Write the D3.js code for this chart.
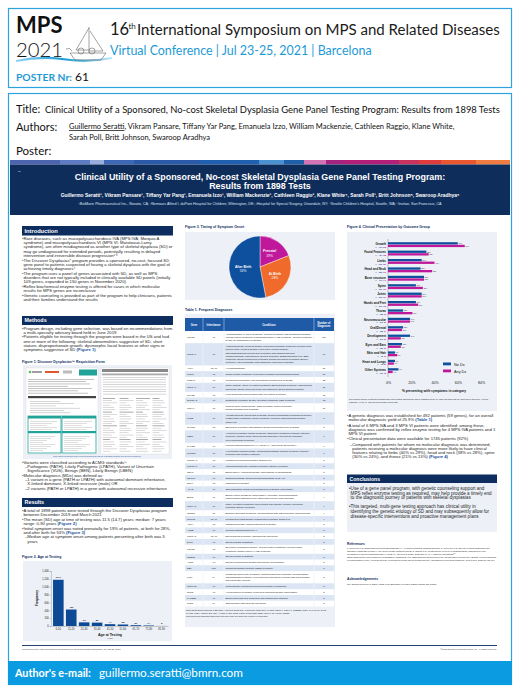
<!DOCTYPE html>
<html><head><meta charset="utf-8">
<script src="https://cdn.jsdelivr.net/npm/d3@7"></script>
<style>body{margin:0;background:#fff}svg{display:block}</style>
</head><body><svg id="c" width="520" height="693"></svg>
<script>
// ---------------- DATA ----------------
const ageGroups = ["0-10","11-20","21-30","31-40","41-50","51-60","61-70","71-80","81-90"];
const ageCounts = [1177,420,93,86,47,38,21,14,2];
const ageTicks = [0,200,400,600,800,1000,1200,1400];

const onsetLabels = ["Prenatal","At Birth","After Birth"];
const onsetPct = [19,28,53];

const presCategories = ["Growth","Facial Features","Limbs","Head and Neck","Bone structure","Spine","Joints","Hands and Feet","Thorax","Neuromuscular","Oral/Dental","Development","Eyes and Ears","Skin and Hair","Heart and Lungs","Other Systems"];
const presNoDx  = [60,33,29,28,31,24,29,24,13,19,13,19,12,6,6,9];
const presAnyDx = [66,35,40,38,31,30,29,26,21,19,12,11,11,8,5,4];
const presNNoDx  = [776,427,375,362,401,310,375,310,168,246,168,246,155,78,78,116];
const presNAnyDx = [298,158,181,172,140,136,131,118,95,86,54,50,50,36,23,18];
const pctTicks = [0,20,40,60,80];

const tableGenes = ["FGFR3","COL2A1","ALPL","COMP","RUNX2","COL1A1","LMX1B","SLC26A2","TRPV4","FLNB","MATN3","FBN1","GALNS","PTPN11","COL10A1","COL11A1","GDF5","INPPL1","SOX9","ACAN","BMP2","COL9A2","LEMD3","MMP13","ANKH","ARSB","COL1A2","DLL3","FGFR2","MESP2","ACP5","EBP","FLNA","GNPTAB","NPR2","PAPSS2","PLS3"];
const tableInheritance = ["AD","AD","AD/AR","AD","AD","AD","AD","AR","AD","AD","AD","AD","AR","AD","AD","AD","AD","AR","AD","AD","AD","AD","AD","AD/AR","AD","AR","AD/AR","AR","AD","AR","AR","XLD","XL","AR","AR","AR","XL"];
const tableConditions = [
 "Achondroplasia; CATSHL syndrome; Crouzon syndrome with acanthosis nigricans; FGFR3-related conditions; hypochondroplasia; LADD syndrome; Muenke syndrome; SADDAN; thanatophoric dysplasia",
 "Achondrogenesis; Czech dysplasia; epiphyseal dysplasia; avascular necrosis of the femoral head; Kniest dysplasia; Legg-Calvé-Perthes disease; osteoarthritis/spondyloepiphyseal dysplasia; osteoarthritis with mild chondrodysplasia; platyspondylic skeletal dysplasia; SMED Strudwick type; SED congenita; spondyloepiphyseal dysplasia; spondyloperipheral dysplasia; Stickler syndrome; vitreoretinopathy with phalangeal epiphyseal dysplasia",
 "Hypophosphatasia",
 "COMP-related conditions; epiphyseal dysplasia; pseudoachondroplasia",
 "Cleidocranial dysplasia; craniosynostosis; Metaphyseal dysplasia",
 "Caffey disease; COL1A1-related conditions; Ehlers-Danlos syndrome; osteogenesis imperfecta; fibrotic aortic aneurysm and dissection; Ehlers-Danlos syndrome",
 "Focal segmental glomerulosclerosis; nail-patella syndrome",
 "Diastrophic dysplasia; SLC26A2-related conditions; MED syndrome",
 "Charcot-Marie-Tooth disease; distal hereditary motor neuropathy; spondylometaphyseal dysplasia",
 "Atelosteogenesis; boomerang dysplasia; spondylocarpotarsal synostosis syndrome; FLNB-related conditions; Larsen syndrome; Piepkorn osteochondrodysplasia; Larsen-like",
 "Epiphyseal dysplasia; osteoarthritis; spondyloepimetaphyseal dysplasia",
 "Acromicric dysplasia; Marfan syndrome; Shprintzen-Goldberg syndrome; stiff skin syndrome; thoracic aortic aneurysm and dissection; geleophysic dysplasia; Weill-Marchesani syndrome",
 "Mucopolysaccharidosis type IVA (MPS IVA), also known as Morquio A",
 "Hypertrophic cardiomyopathy; metachondromatosis; Noonan syndrome; Noonan syndrome with multiple lentigines",
 "Metaphyseal chondrodysplasia, Schmid type",
 "Fibrochondrogenesis; Marshall syndrome; Stickler syndrome",
 "Brachydactyly; chondrodysplasia; osteoarthritis; symphalangism",
 "Opsismodysplasia; spondyloenchondromatosis (CHS-AD)",
 "Campomelic dysplasia",
 "Osteochondritis; spondyloepimetaphyseal dysplasia; short stature",
 "BMP2-related conditions; brachydactyly; hereditary hemochromatosis; fibrodysplasia ossificans of the ligamentum flavum; tooth agenesis",
 "COL9A2-related conditions; intervertebral disc disease; multiple epiphyseal dysplasia; Stickler syndrome",
 "Buschke-Ollendorff syndrome; melorheostosis with osteopoikilosis; osteopoikilosis",
 "Metaphyseal anadysplasia; metaphyseal dysplasia, Spahr type",
 "Chondrocalcinosis; craniometaphyseal dysplasia",
 "Mucopolysaccharidosis type VI",
 "Ehlers-Danlos syndrome; osteogenesis imperfecta",
 "Spondylocostal dysostosis",
 "Bent bone dysplasia syndrome; FGFR2-related conditions; FGFR2 related conditions; Gastric cancer; LADD syndrome",
 "Spondylocostal dysostosis",
 "Spondyloenchondrodysplasia with immune dysregulation",
 "Chondrodysplasia punctata; MEND syndrome",
 "Congenital short bowel syndrome; frontometaphyseal dysplasia; melorheostosis; otopalatodigital syndrome; periventricular heterotopia; terminal osseous dysplasia with pigmentary defects",
 "Mucolipidosis II alpha/beta and mucolipidosis III alpha/beta",
 "Acromesomelic dysplasia; epiphyseal chondrodysplasia, short stature",
 "Brachyolmia with mild epiphyseal and metaphyseal changes",
 "Osteoporosis; osteogenesis imperfecta"
];
const tableCounts = [117,60,31,26,23,20,15,12,11,8,8,7,6,6,5,5,5,5,5,5,4,4,4,4,3,3,3,3,3,3,3,3,3,3,3,3,3];

// ---------------- SETUP ----------------
const svg = d3.select("#c");
const FONT = "'Liberation Sans', Arial, sans-serif";
const HFONT = "Lato, 'Open Sans', sans-serif";
const NAVY = "#0c2d5e", BLUE = "#0e4f9e", MAG = "#c0189a", ORANGE = "#f06a2c", PANEL = "#edf1f7", LINK = "#1b4f9c";
const SKY = "#2aa3de";

const meas = svg.append("text").attr("x",-2000).attr("y",-2000).attr("font-family",FONT);
function tw(s,size,weight,fam){ meas.attr("font-family",fam||FONT).attr("font-size",size).attr("font-weight",weight||"normal").text(s); return meas.node().getComputedTextLength(); }
function fitSize(s,maxSize,width,weight,fam){ const w=tw(s,maxSize,weight,fam); return w>width ? maxSize*width/w : maxSize; }
function exactSize(s,size,width,weight,fam){ return size*width/tw(s,size,weight,fam); }
function wrap(s,width,size,weight){
  const words=s.split(/\s+/); const lines=[]; let cur="";
  for(const w of words){ const t=cur?cur+" "+w:w; if(tw(t,size,weight)>width && cur){lines.push(cur);cur=w;} else cur=t; }
  if(cur) lines.push(cur); return lines;
}
const HL=/(\((?:Figure|Table) \d\))/;
function drawLine(g,str,x,y,size,o){
  o=o||{};
  const t=g.append("text").attr("x",x).attr("y",y).attr("font-size",size).attr("font-family",FONT)
    .attr("fill",o.fill||"#1e1e1e").attr("font-weight",o.weight||"normal");
  str.split(HL).forEach(p=>{ if(!p) return; const sp=t.append("tspan").text(p); if(HL.test(p)) sp.attr("fill",LINK).attr("font-weight","bold"); });
  return t;
}
function paras(g,items,x,y,width,o){
  items.forEach(([lvl,txt])=>{
    const ind = lvl===1 ? o.ind1 : 0;
    const mark = lvl===0 ? o.mark0 : (lvl===1 ? "– " : "");
    const mw = mark ? tw(mark,o.size) : 0;
    const lines = wrap(txt,width-ind-mw,o.size);
    lines.forEach((ln,i)=>{ if(i===0&&mark) drawLine(g,mark,x+ind,y,o.size,o); drawLine(g,ln,x+ind+mw,y,o.size,o); y+=o.lh; });
    y+=o.gap||0;
  });
  return y;
}
function secHeader(g,x,y,w,h,label){
  g.append("rect").attr("x",x).attr("y",y).attr("width",w).attr("height",h).attr("fill",NAVY);
  g.append("text").attr("x",x+2.5).attr("y",y+h*0.72).attr("font-size",h*0.6).attr("font-weight","bold").attr("font-family",FONT).attr("fill","#fff").text(label);
}
function figLabel(g,x,y,label){
  g.append("text").attr("x",x).attr("y",y).attr("font-size",3.5).attr("font-weight","bold").attr("font-family",FONT).attr("fill",NAVY).text(label);
}
function fitText(g,x,y,str,maxSize,width,attrs){
  const w=attrs.weight||"normal";
  const s=attrs.exact ? exactSize(str,maxSize,width,w,attrs.fam||HFONT) : fitSize(str,maxSize,width,w,attrs.fam||HFONT);
  return g.append("text").attr("x",x).attr("y",y).attr("font-family",attrs.fam||HFONT).attr("font-weight",w).attr("font-size",s).attr("fill",attrs.fill||"#111").text(str);
}

// ---------------- CONFERENCE HEADER ----------------
const H = svg.append("g");
H.append("rect").attr("x",8.5).attr("y",8.5).attr("width",503).attr("height",79).attr("fill","#fff").attr("stroke",SKY).attr("stroke-width",1.2);
fitText(H,16,33,"MPS",22,47,{weight:"bold"});
fitText(H,16,56.5,"2021",22,47,{weight:"300"});
const wg = svg.append("defs").append("linearGradient").attr("id","wv");
wg.append("stop").attr("offset","0").attr("stop-color","#8fd3f4");
wg.append("stop").attr("offset","0.5").attr("stop-color","#1a9ad6");
wg.append("stop").attr("offset","1").attr("stop-color","#bfe6f8");
H.append("path").attr("d","M16,61 Q40,56 62,59 Q86,63 112,58").attr("fill","none").attr("stroke","url(#wv)").attr("stroke-width",2.2);
const B = H.append("g").attr("fill","none").attr("stroke","#666").attr("stroke-width",0.6);
B.append("path").attr("d","M70,53 L106,53 L101,60 L75,60 Z");
B.append("path").attr("d","M89,27 L89,53");
B.append("path").attr("d","M89,28 L76,50 L89,50");
B.append("path").attr("d","M90,31 L103,51 L90,51");
B.append("circle").attr("cx",81).attr("cy",51).attr("r",3);
B.append("circle").attr("cx",92).attr("cy",51).attr("r",3);
B.append("path").attr("d","M66,49 Q70,47 72,51");
H.append("text").attr("x",110).attr("y",35).attr("font-family",HFONT).attr("font-size",16.5).attr("fill","#1a1a1a").text("16");
H.append("text").attr("x",128.5).attr("y",28.5).attr("font-family",HFONT).attr("font-size",8).attr("fill","#1a1a1a").text("th");
fitText(H,137,35,"International Symposium on MPS and Related Diseases",16.5,363,{fill:"#1a1a1a"});
fitText(H,110,55,"Virtual Conference | Jul 23-25, 2021 | Barcelona",13,262,{fill:"#1e9ad6"});
fitText(H,16,81,"POSTER Nr:",10.5,56,{weight:"bold",fill:"#1e9ad6"});
H.append("text").attr("x",75).attr("y",81).attr("font-family",HFONT).attr("font-size",12).attr("fill","#111").text("61");

// ---------------- TITLE BOX ----------------
const T = svg.append("g");
T.append("rect").attr("x",8.5).attr("y",93.5).attr("width",503).attr("height",591).attr("fill","#fff").attr("stroke",SKY).attr("stroke-width",1.2);
T.append("text").attr("x",16).attr("y",113).attr("font-family",HFONT).attr("font-size",11).attr("fill","#111").text("Title:");
fitText(T,45,112.5,"Clinical Utility of a Sponsored, No-cost Skeletal Dysplasia Gene Panel Testing Program: Results from 1898 Tests",7.4,455,{exact:true});
T.append("text").attr("x",16).attr("y",131).attr("font-family",HFONT).attr("font-size",11).attr("fill","#111").text("Authors:");
const authA="Guillermo Seratti", authB=", Vikram Pansare, Tiffany Yar Pang, Emanuela Izzo, William Mackenzie, Cathleen Raggio, Klane White,";
const aSize=exactSize(authA+authB,6.5,386,"normal",HFONT);
T.append("text").attr("x",69).attr("y",129).attr("font-family",HFONT).attr("font-size",aSize).attr("fill","#111")
  .call(t=>{ t.append("tspan").attr("text-decoration","underline").text(authA); t.append("tspan").text(authB); });
T.append("text").attr("x",69).attr("y",140).attr("font-family",HFONT).attr("font-size",aSize).attr("fill","#111").text("Sarah Poll, Britt Johnson, Swaroop Aradhya");
T.append("text").attr("x",16).attr("y",155).attr("font-family",HFONT).attr("font-size",11.5).attr("fill","#111").text("Poster:");

svg.append("rect").attr("x",8).attr("y",661).attr("width",504).attr("height",24).attr("fill","#0b9be0");
fitText(svg,15,677,"Author's e-mail:",10.5,76,{weight:"bold",fill:"#fff",exact:true});
fitText(svg,99,677,"guillermo.seratti@bmrn.com",11.5,144,{fill:"#fff",exact:true});

// ---------------- POSTER ----------------
const P = svg.append("g");
P.append("rect").attr("x",10).attr("y",160).attr("width",500).attr("height",498).attr("fill","#fff");
const stripe=[["#4c63ad",50],["#5d7cc4",30],["#9aaedb",14],["#3d68b6",30],["#2b5aa8",65],["#1f60b0",60],["#4a92d2",25],["#2060aa",20],["#d574b5",22],["#a4247f",18],["#b42079",55],["#c8335f",20],["#e03b3d",22],["#e9572f",35],["#f17c3f",34]];
let sx=10; stripe.forEach(([c,w])=>{ P.append("rect").attr("x",sx).attr("y",160).attr("width",w).attr("height",4.5).attr("fill",c); sx+=w; });
P.append("rect").attr("x",10).attr("y",164.5).attr("width",500).attr("height",50.5).attr("fill","#0f2d5a");
P.append("text").attr("x",18).attr("y",172).attr("font-size",2.4).attr("font-family",FONT).attr("fill","#fff").text("61");
const pt1="Clinical Utility of a Sponsored, No-cost Skeletal Dysplasia Gene Panel Testing Program:";
const ptSize=exactSize(pt1,7.8,371,"bold");
P.append("text").attr("x",260).attr("y",179.5).attr("text-anchor","middle").attr("font-size",ptSize).attr("font-weight","bold").attr("font-family",FONT).attr("fill","#fff").text(pt1);
P.append("text").attr("x",260).attr("y",188.5).attr("text-anchor","middle").attr("font-size",ptSize).attr("font-weight","bold").attr("font-family",FONT).attr("fill","#fff").text("Results from 1898 Tests");
const auth="Guillermo Seratti¹, Vikram Pansare¹, Tiffany Yar Pang¹, Emanuela Izzo¹, William Mackenzie², Cathleen Raggio³, Klane White⁴, Sarah Poll¹, Britt Johnson⁵, Swaroop Aradhya⁵";
P.append("text").attr("x",260).attr("y",197).attr("text-anchor","middle").attr("font-size",exactSize(auth,3.4,398,"bold")).attr("font-weight","bold").attr("font-family",FONT).attr("fill","#fff").text(auth);
const aff="¹BioMarin Pharmaceutical Inc., Novato, CA; ²Nemours Alfred I. duPont Hospital for Children, Wilmington, DE; ³Hospital for Special Surgery, Uniondale, NY; ⁴Seattle Children's Hospital, Seattle, WA; ⁵Invitae, San Francisco, CA";
P.append("text").attr("x",260).attr("y",205).attr("text-anchor","middle").attr("font-size",exactSize(aff,2.5,364)).attr("font-family",FONT).attr("fill","#dfe6f2").text(aff);

const BODY = {size:4.2, lh:4.2, gap:0.5, ind1:3, mark0:"•"};

// ---- LEFT COLUMN ----
const L = P.append("g");
const LX=22, LW=151;
secHeader(L,LX,226,LW,9.5,"Introduction");
paras(L,[
 [0,"Rare diseases, such as mucopolysaccharidosis IVA (MPS IVA; Morquio A syndrome) and mucopolysaccharidosis VI (MPS VI; Maroteaux-Lamy syndrome), are often misdiagnosed as another type of skeletal dysplasia (SD) or may go undiagnosed for extended periods, potentially resulting in delayed intervention and irreversible disease progression¹⁻³"],
 [0,"The Discover Dysplasias* program provides a sponsored, no-cost, focused SD gene panel to patients suspected of having a skeletal dysplasia with the goal of achieving timely diagnoses⁴"],
 [0,"The program uses a panel of genes associated with SD, as well as MPS disorders that are not typically included in clinically available SD panels (initially 109 genes, expanded to 150 genes in November 2020)"],
 [0,"Reflex biochemical enzyme testing is offered for cases in which molecular results for MPS genes are inconclusive"],
 [0,"Genetic counseling is provided as part of the program to help clinicians, patients and their families understand the results"]
],LX,240,LW,BODY);
secHeader(L,LX,316,LW,9,"Methods");
paras(L,[
 [0,"Program design, including gene selection, was based on recommendations from a multi-specialty advisory board held in June 2019"],
 [0,"Patients eligible for testing through the program were based in the US and had one or more of the following: skeletal abnormalities suggestive of SD, short stature, disproportionate growth, dysmorphic facial features or other signs or symptoms suggestive of SD (Figure 1)"]
],LX,329.5,LW,BODY);
figLabel(L,LX,362.5,"Figure 1. Discover Dysplasias™ Requisition Form");
L.append("rect").attr("x",23).attr("y",365).attr("width",149).attr("height",94).attr("fill",PANEL);
const F=L.append("g");
F.append("rect").attr("x",26).attr("y",368).attr("width",72).attr("height",86).attr("fill","#fff").attr("stroke","#ccc").attr("stroke-width",0.3);
F.append("rect").attr("x",101).attr("y",368).attr("width",68).attr("height",86).attr("fill","#fff").attr("stroke","#ccc").attr("stroke-width",0.3);
F.append("circle").attr("cx",30).attr("cy",372).attr("r",1.3).attr("fill","#5cb85c");
F.append("rect").attr("x",32).attr("y",371.3).attr("width",10).attr("height",1.4).attr("fill","#777");
F.append("rect").attr("x",45).attr("y",371).attr("width",14).attr("height",2).attr("fill","#e2562c");
F.append("rect").attr("x",63).attr("y",370.5).attr("width",9).attr("height",3).attr("fill","#bbb");
F.append("rect").attr("x",79).attr("y",369.5).attr("width",18).attr("height",6).attr("fill","#22a39a");
for(let i=0;i<7;i++){ F.append("rect").attr("x",28).attr("y",379+i*2.3).attr("width",[66,58,62,40,64,50,60][i]).attr("height",0.7).attr("fill","#aaa"); }
F.append("rect").attr("x",28).attr("y",396).attr("width",68).attr("height",2.2).attr("fill","#444");
for(let i=0;i<6;i++){ F.append("rect").attr("x",30).attr("y",401+i*2.3).attr("width",[30,44,26,50,34,40][i]).attr("height",0.6).attr("fill","#bbb"); }
[[28,416,33],[62,416,34]].forEach(([x,y,w])=>{
  F.append("rect").attr("x",x).attr("y",y).attr("width",w).attr("height",37).attr("fill","#fff").attr("stroke","#22a39a").attr("stroke-width",0.8);
  F.append("rect").attr("x",x).attr("y",y).attr("width",w).attr("height",2.5).attr("fill","#22a39a");
  F.append("rect").attr("x",x).attr("y",y+15).attr("width",w).attr("height",2.2).attr("fill","#22a39a");
  for(let i=0;i<5;i++) F.append("rect").attr("x",x+2).attr("y",y+5+i*2).attr("width",w-6-(i%3)*5).attr("height",0.5).attr("fill","#bbb");
  for(let i=0;i<8;i++) F.append("rect").attr("x",x+2).attr("y",y+20+i*2).attr("width",w-8-(i%4)*4).attr("height",0.5).attr("fill","#bbb");
});
F.append("rect").attr("x",102).attr("y",369).attr("width",66).attr("height",3).attr("fill","#888");
F.append("rect").attr("x",102).attr("y",373.5).attr("width",66).attr("height",1.8).attr("fill","#aaa");
for(let r=0;r<8;r++) F.append("rect").attr("x",103).attr("y",377+r*2.4).attr("width",63).attr("height",0.6).attr("fill","#bbb");
for(let c=0;c<4;c++) for(let r=0;r<24;r++){
  F.append("rect").attr("x",103+c*16.5).attr("y",398+r*2.3).attr("width",[12,9,14,7,11][(r+c)%5]).attr("height",0.55).attr("fill",r%6===0?"#666":"#bbb");
}
L.append("text").attr("x",97).attr("y",457.3).attr("text-anchor","middle").attr("font-size",1.7).attr("font-family",FONT).attr("fill",LINK).text("https://discoverdysplasias.invitae.com/content/dam/invitae/discover-dysplasias/requisition-form-skeletal-dysplasia.pdf");
paras(L,[
 [0,"Variants were classified according to ACMG standards⁵:"],
 [1,"Pathogenic (PATH), Likely Pathogenic (LPATH), Variant of Uncertain Significance (VUS), Benign (BEN), Likely Benign (LBEN)"],
 [0,"Molecular diagnosis (MDx) was defined as:"],
 [1,"1 variant in a gene (PATH or LPATH) with autosomal dominant inheritance, X-linked dominant, X-linked recessive (male) OR"],
 [1,"2 variants (PATH or LPATH) in a gene with autosomal recessive inheritance"]
],LX,463.5,LW,Object.assign({},BODY,{gap:0.2}));
secHeader(L,LX,498,LW,9,"Results");
paras(L,[
 [0,"A total of 1898 patients were tested through the Discover Dysplasias program between December 2019 and March 2021"],
 [0,"The mean (SD) age at time of testing was 11.5 (14.7) years; median: 7 years; range: 0-90 years (Figure 2)"],
 [0,"Initial symptom onset was noted prenatally for 19% of patients, at birth for 28%, and after birth for 53% (Figure 3)"],
 [1,"Median age at symptom onset among patients presenting after birth was 5 years"]
],LX,512,LW,Object.assign({},BODY,{gap:0.4}));
figLabel(L,LX,558,"Figure 2. Age at Testing");

const F2=L.append("g");
F2.append("rect").attr("x",23).attr("y",561).attr("width",149).attr("height",80).attr("fill",PANEL);
const x2=d3.scaleBand().domain(ageGroups).range([52,168]).paddingInner(0.18).paddingOuter(0.08);
const y2=d3.scaleLinear().domain([0,1400]).range([626,571]);
F2.selectAll(".bar").data(ageCounts).join("rect").attr("x",(d,i)=>x2(ageGroups[i])).attr("width",x2.bandwidth())
  .attr("y",d=>y2(d)).attr("height",d=>y2(0)-y2(d)).attr("fill","#0d4a96");
F2.selectAll(".vl").data(ageCounts).join("text").attr("x",(d,i)=>x2(ageGroups[i])+x2.bandwidth()/2).attr("y",d=>y2(d)-1.5)
  .attr("text-anchor","middle").attr("font-size",2.5).attr("font-weight","bold").attr("font-family",FONT).attr("fill","#222").text(d=>d);
const ax2=F2.append("g").attr("transform","translate(51,0)").call(d3.axisLeft(y2).tickValues(ageTicks).tickSize(1.2).tickPadding(1));
ax2.selectAll("text").attr("font-size",2.6).attr("font-family",FONT).attr("fill","#222");
ax2.selectAll("line,path").attr("stroke","#666").attr("stroke-width",0.3);
const bx2=F2.append("g").attr("transform","translate(0,626)").call(d3.axisBottom(x2).tickSize(0).tickPadding(2.5));
bx2.selectAll("text").attr("font-size",2.6).attr("font-family",FONT).attr("fill","#222");
bx2.select("path").attr("stroke","#666").attr("stroke-width",0.3);
F2.append("text").attr("transform","translate(38,598) rotate(-90)").attr("text-anchor","middle").attr("font-size",3.2).attr("font-weight","bold").attr("font-family",FONT).attr("fill","#111").text("Frequency");
F2.append("text").attr("x",110).attr("y",636).attr("text-anchor","middle").attr("font-size",3.5).attr("font-weight","bold").attr("font-family",FONT).attr("fill","#111").text("Age at Testing");
F2.append("text").attr("x",110).attr("y",639.3).attr("text-anchor","middle").attr("font-size",2.2).attr("font-family",FONT).attr("fill","#333").text("years");

// ---- MIDDLE COLUMN ----
const M=P.append("g");
figLabel(M,185,228,"Figure 3. Timing of Symptom Onset");
M.append("rect").attr("x",185).attr("y",232).attr("width",150).attr("height",68).attr("fill",PANEL);
const pieColors=d3.scaleOrdinal().domain(onsetLabels).range([MAG,ORANGE,BLUE]);
const pie=d3.pie().sort(null).value(d=>d);
const arcs=pie(onsetPct);
const arc=d3.arc().innerRadius(0).outerRadius(31);
const lab=d3.arc().innerRadius(17).outerRadius(17);
const PG=M.append("g").attr("transform","translate(260,267)");
PG.selectAll("path").data(arcs).join("path").attr("d",arc).attr("fill",(d,i)=>pieColors(onsetLabels[i])).attr("stroke","#fff").attr("stroke-width",0.4);
PG.selectAll(".pl").data(arcs).join("text").attr("transform",d=>`translate(${lab.centroid(d)})`).attr("text-anchor","middle")
  .attr("font-size",3.3).attr("font-weight","bold").attr("font-family",FONT).attr("fill","#fff")
  .each(function(d,i){ const t=d3.select(this); t.append("tspan").attr("x",0).attr("dy",-0.5).text(onsetLabels[i]); t.append("tspan").attr("x",0).attr("dy",4.3).attr("font-weight","normal").text(onsetPct[i]+"%"); });

figLabel(M,185,310.5,"Table 1. Frequent Diagnoses");
M.append("rect").attr("x",185).attr("y",314).attr("width",150).attr("height",313).attr("fill",PANEL);
const cx=[185,203,224,314,334];
const TH=M.append("g");
TH.append("rect").attr("x",185).attr("y",318).attr("width",149).attr("height",13).attr("fill","#1f5aa6");
const hdr=["Gene","Inheritance","Conditions","Number of|Diagnoses"];
hdr.forEach((h,i)=>{
  const parts=h.split("|"); const mx=(cx[i]+cx[i+1])/2;
  parts.forEach((p,j)=> TH.append("text").attr("x",mx).attr("y",325.5+(j-(parts.length-1)/2)*3.2).attr("text-anchor","middle").attr("font-size",2.6).attr("font-weight","bold").attr("font-family",FONT).attr("fill","#fff").text(p));
  if(i>0) TH.append("line").attr("x1",cx[i]).attr("x2",cx[i]).attr("y1",318).attr("y2",331).attr("stroke","#fff").attr("stroke-width",0.4);
});
const TS=2.35, condW=cx[3]-cx[2]-3;
const rowLines=tableConditions.map(c=>wrap(c,condW,TS));
const units=rowLines.map(l=>l.length+0.75);
const totalU=d3.sum(units);
const uScale=d3.scaleLinear().domain([0,totalU]).range([331,606.5]);
let acc=0;
rowLines.forEach((lines,i)=>{
  const y0=uScale(acc), y1=uScale(acc+units[i]); acc+=units[i];
  const lh=(y1-y0)/units[i];
  TH.append("rect").attr("x",185).attr("y",y0).attr("width",149).attr("height",y1-y0).attr("fill",i%2===0?"#fff":"#dbe5f3");
  [1,2,3].forEach(k=>TH.append("line").attr("x1",cx[k]).attr("x2",cx[k]).attr("y1",y0).attr("y2",y1).attr("stroke",i%2===0?"#dbe5f3":"#fff").attr("stroke-width",0.4));
  const mid=(y0+y1)/2+0.8;
  TH.append("text").attr("x",cx[0]+2).attr("y",mid).attr("font-size",TS).attr("font-family",FONT).attr("fill","#222").text(tableGenes[i]);
  TH.append("text").attr("x",(cx[1]+cx[2])/2).attr("y",mid).attr("text-anchor","middle").attr("font-size",TS).attr("font-family",FONT).attr("fill","#222").text(tableInheritance[i]);
  TH.append("text").attr("x",(cx[3]+cx[4])/2).attr("y",mid).attr("text-anchor","middle").attr("font-size",TS).attr("font-family",FONT).attr("fill","#222").text(tableCounts[i]);
  lines.forEach((ln,j)=>TH.append("text").attr("x",cx[2]+1.5).attr("y",y0+lh*(0.375+j)+lh*0.72).attr("font-size",TS).attr("font-family",FONT).attr("fill","#222").text(ln));
});
paras(M,[
 [2,"Table shows genes identified in ≥3 cases. Additional genes with <3 identified cases were: CHST3, COL2A1, COL9A1, CREBBP, CTSK, DYM, EXT1, EXT2, GALNS, GLB1, HSPG2, IDS, IDUA, KIF5B, NANS, NPR2, PCNT, SH3PXD2B, SOST, SULF1, TRAPPC2, WDR35"],
 [2,"Individuals with diagnoses associated with more than one gene are counted for each gene"]
],186,611,147,{size:2.05,lh:2.8,gap:0.6,ind1:0,mark0:""});

// ---- RIGHT COLUMN ----
const R=P.append("g");
figLabel(R,347,228,"Figure 4. Clinical Presentation by Outcome Group");
R.append("rect").attr("x",347).attr("y",232).attr("width",150).attr("height",179).attr("fill",PANEL);
const x4=d3.scaleLinear().domain([0,80]).range([388,481]);
const y4=d3.scaleBand().domain(presCategories).range([240.3,374.7]);
const bh=2.3;
R.selectAll(".b1").data(presNoDx).join("rect").attr("x",x4(0)).attr("y",(d,i)=>y4(presCategories[i])+1.9).attr("width",d=>x4(d)-x4(0)).attr("height",bh).attr("fill",BLUE);
R.selectAll(".b2").data(presAnyDx).join("rect").attr("x",x4(0)).attr("y",(d,i)=>y4(presCategories[i])+4.5).attr("width",d=>x4(d)-x4(0)).attr("height",bh).attr("fill",MAG);
R.selectAll(".v1").data(presNoDx).join("text").attr("x",d=>x4(d)+0.8).attr("y",(d,i)=>y4(presCategories[i])+3.8).attr("font-size",1.7).attr("font-family",FONT).attr("fill","#222").text(d=>d+"%");
R.selectAll(".v2").data(presAnyDx).join("text").attr("x",d=>x4(d)+0.8).attr("y",(d,i)=>y4(presCategories[i])+6.4).attr("font-size",1.7).attr("font-family",FONT).attr("fill","#222").text(d=>d+"%");
R.selectAll(".cl").data(presCategories).join("text").attr("x",386).attr("y",d=>y4(d)+4.6).attr("text-anchor","end").attr("font-size",3).attr("font-weight","bold").attr("font-family",FONT).attr("fill","#111").text(d=>d);
R.selectAll(".nl").data(presCategories).join("text").attr("x",386).attr("y",d=>y4(d)+7.4).attr("text-anchor","end").attr("font-size",1.9).attr("font-family",FONT).attr("fill","#222")
  .each(function(d,i){ const t=d3.select(this); t.append("tspan").text("n = "); t.append("tspan").attr("fill",BLUE).attr("font-weight","bold").text(presNNoDx[i]); t.append("tspan").text(", "); t.append("tspan").attr("fill",MAG).attr("font-weight","bold").text(presNAnyDx[i]); });
R.append("line").attr("x1",x4(0)).attr("x2",x4(0)).attr("y1",239).attr("y2",377).attr("stroke","#555").attr("stroke-width",0.35);
const ax4=R.append("g").attr("transform","translate(0,377)").call(d3.axisBottom(x4).tickValues(pctTicks).tickFormat(d=>d+"%").tickSize(0).tickPadding(4.5));
ax4.select("path").remove();
ax4.selectAll("text").attr("font-size",3.6).attr("font-family",FONT).attr("fill","#222");
R.append("text").attr("x",434).attr("y",392).attr("text-anchor","middle").attr("font-size",3.3).attr("font-weight","bold").attr("font-family",FONT).attr("fill","#111").text("% presenting with symptoms in category");
R.append("rect").attr("x",443).attr("y",362.5).attr("width",8).attr("height",2.8).attr("fill",BLUE);
R.append("rect").attr("x",443).attr("y",369.5).attr("width",8).attr("height",2.8).attr("fill",MAG);
R.append("text").attr("x",454).attr("y",365.5).attr("font-size",3.8).attr("font-family",FONT).attr("fill","#111").text("No Dx");
R.append("text").attr("x",454).attr("y",372.5).attr("font-size",3.8).attr("font-family",FONT).attr("fill","#111").text("Any Dx");
paras(R,[[2,"N's represent number of patients presenting with each symptom among those with no diagnosis (No Dx; N=1293) and those with any molecular or molecular + enzyme diagnosis (Any Dx; N=452) who had available clinical data"]],349,400,146,{size:1.9,lh:2.6,gap:0,ind1:0,mark0:""});

paras(R,[
 [0,"A genetic diagnosis was established for 492 patients (59 genes), for an overall molecular diagnostic yield of 25.9% (Table 1)"],
 [0,"A total of 6 MPS IVA and 3 MPS VI patients were identified; among these, diagnosis was confirmed by reflex enzyme testing for 4 MPS IVA patients and 1 MPS VI patient"],
 [0,"Clinical presentation data were available for 1745 patients (92%)"],
 [1,"Compared with patients for whom no molecular diagnosis was determined, patients receiving a molecular diagnosis were more likely to have clinical features relating to limbs (40% vs 29%), head and neck (38% vs 28%), spine (30% vs 24%), and thorax (21% vs 13%) (Figure 4)"]
],347,417,150,Object.assign({},BODY,{gap:1.2}));
secHeader(R,347,474.5,150,8.5,"Conclusions");
R.append("rect").attr("x",347).attr("y",483).attr("width",150).attr("height",49).attr("fill",PANEL);
paras(R,[
 [0,"Use of a gene panel program, with genetic counseling support and MPS reflex enzyme testing as required, may help provide a timely end to the diagnostic journey of patients with skeletal dysplasias"],
 [0,"This targeted, multi-gene testing approach has clinical utility in identifying the genetic etiology of SD and may subsequently allow for disease-specific interventions and proactive management plans"]
],349,490,146,{size:4.55,lh:4.7,gap:4,ind1:0,mark0:"• "});
R.append("text").attr("x",347).attr("y",545).attr("font-size",3.3).attr("font-weight","bold").attr("font-family",FONT).attr("fill",NAVY).text("References");
paras(R,[[2,"1. Wood TC et al. Diagnosing mucopolysaccharidosis IVA. J Inherit Metab Dis. 2013;36:293-307. 2. Wood TC et al. Expert recommendations for the laboratory diagnosis of MPS VI. Mol Genet Metab. 2012;106:73-82. 3. Ozaj B et al. Identifying the need for a multidisciplinary approach for early recognition of mucopolysaccharidosis VI (MPS VI). Mol Genet Metab. 2015;115:41-47. 4. Discover Dysplasias™. https://www.invitae.com/en/discover-dysplasias 5. Richards S et al. Standards and guidelines for the interpretation of sequence variants: a joint consensus recommendation of the American College of Medical Genetics and Genomics and the Association for Molecular Pathology. Genet Med. 2015;17:405-424."]],347,549,150,{size:2.2,lh:3,gap:0,ind1:0,mark0:""});
R.append("text").attr("x",347).attr("y",580).attr("font-size",3.3).attr("font-weight","bold").attr("font-family",FONT).attr("fill",NAVY).text("Acknowledgements");
R.append("text").attr("x",347).attr("y",584.5).attr("font-size",2.2).attr("font-family",FONT).attr("fill","#222").text("The authors would like to thank Abigail Hunt (BioMarin) for poster graphic writing and design.");

P.append("line").attr("x1",22).attr("x2",497).attr("y1",645.5).attr("y2",645.5).attr("stroke",NAVY).attr("stroke-width",0.9);
P.append("text").attr("x",22).attr("y",650).attr("font-size",2.3).attr("font-family",FONT).attr("fill","#444").text("Presented at the 16th International Symposium on MPS and Related Disorders, July 23-25, 2021");
P.append("text").attr("x",497).attr("y",650).attr("text-anchor","end").attr("font-size",2.3).attr("font-family",FONT).attr("fill","#444").text("©2021 BioMarin Pharmaceutical Inc. All rights reserved.");
meas.remove();
</script></body></html>
